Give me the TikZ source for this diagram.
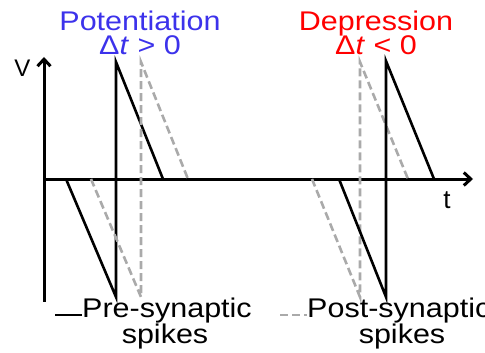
\documentclass[tikz,border=0pt]{standalone}
\usepackage{fontspec}
\setmainfont{Liberation Sans}
\usetikzlibrary{arrows.meta}
\definecolor{potblue}{RGB}{60,50,235}
\definecolor{depred}{RGB}{255,0,0}
\definecolor{postgray}{RGB}{170,170,170}
\newcommand{\wide}[1]{\scalebox{1.13}[1]{#1}}
\tikzset{
  axisline/.style={line width=3pt, -{Straight Barb[length=7pt,width=13pt,line width=3pt]}},
  prespike/.style={line width=2.6pt, black, line join=miter},
  postspike/.style={line width=2.6pt, postgray, dash pattern=on 8pt off 4pt},
  lbl/.style={font=\fontsize{27}{30}\selectfont, anchor=base, inner sep=0pt},
}
\begin{document}
\begin{tikzpicture}[x=1pt,y=-1pt]
\useasboundingbox (0,0) rectangle (485,353);
% axes
\coordinate (o) at (44,179);
\coordinate (vtop) at (44,57);
\coordinate (vbot) at (44,302);
\coordinate (tend) at (473,179);
\draw[line width=3pt] (o) -- (vbot);
\draw[axisline] (o) -- (vtop);
\draw[axisline] (o) -- (tend);
\node[lbl, font=\fontsize{24}{26}\selectfont] (V) at (22.5,76.5) {V};
\node[lbl, font=\fontsize{26}{28}\selectfont] (t) at (447,208) {t};
% potentiation: pre spike (black)
\coordinate (p1a) at (66,179); \coordinate (p1b) at (116,297);
\coordinate (p1c) at (116,62); \coordinate (p1d) at (163,179);
\draw[prespike] (p1a) -- (p1b) -- (p1c) -- (p1d);
% potentiation: post spike (gray dashed)
\coordinate (p2a) at (91,179); \coordinate (p2b) at (141,297);
\coordinate (p2c) at (141,62); \coordinate (p2d) at (188,179);
\draw[postspike] (p2a) -- (p2b) -- (p2c) -- (p2d);
% depression: post spike (gray dashed)
\coordinate (d2a) at (312,179); \coordinate (d2b) at (360,297);
\coordinate (d2c) at (360,62); \coordinate (d2d) at (408,179);
\draw[postspike] (d2a) -- (d2b) -- (d2c) -- (d2d);
% depression: pre spike (black)
\coordinate (d1a) at (339,179); \coordinate (d1b) at (386,297);
\coordinate (d1c) at (386,61); \coordinate (d1d) at (434,179);
\draw[prespike] (d1a) -- (d1b) -- (d1c) -- (d1d);
% titles
\node[lbl, text=potblue] (pot) at (140,31) {\wide{Potentiation}};
\node[lbl, text=potblue] (potdt) at (140,54.5) {\wide{Δ\textit{t} > 0}};
\node[lbl, text=depred] (dep) at (376,30.5) {\wide{Depression}};
\node[lbl, text=depred] (depdt) at (376,55) {\wide{Δ\textit{t} < 0}};
% legend
\coordinate (l1a) at (55,315); \coordinate (l1b) at (82,315);
\draw[line width=2.6pt] (l1a) -- (l1b);
\node[lbl, anchor=base west] (pre) at (82,317) {\wide{Pre-synaptic}};
\node[lbl] (pres) at (165,343) {\wide{spikes}};
\coordinate (l2a) at (280,315); \coordinate (l2b) at (307,315);
\draw[postspike] (l2a) -- (l2b);
\node[lbl, anchor=base west] (post) at (307,317) {\wide{Post-synaptic}};
\node[lbl] (posts) at (402,343) {\wide{spikes}};
\end{tikzpicture}
\end{document}
